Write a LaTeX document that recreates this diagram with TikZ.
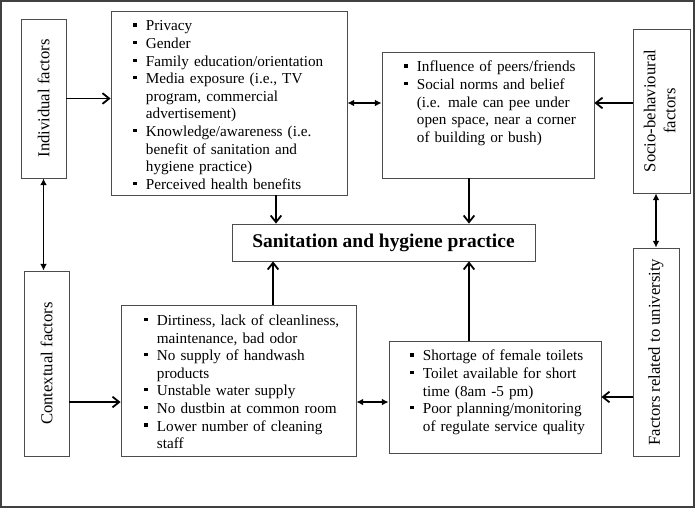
\documentclass[tikz,border=0pt]{standalone}
\usepackage{fontspec}
\setmainfont{Liberation Serif}
\usetikzlibrary{arrows.meta}
\newenvironment{bullets}{\begin{list}{\rule[3.3pt]{2.4pt}{2.4pt}}{\setlength{\leftmargin}{10pt}\setlength{\labelwidth}{2.4pt}\setlength{\labelsep}{7pt}\setlength{\itemsep}{0pt}\setlength{\parsep}{0pt}\setlength{\topsep}{0pt}\setlength{\partopsep}{0pt}}}{\end{list}}
\begin{document}
\begin{tikzpicture}[x=0.75pt,y=-0.75pt,
  box/.style={draw=black!70,line width=0.6pt,inner sep=0pt,font=\fontsize{12.5}{14.5}\selectfont},
  listtext/.style={anchor=north west,inner sep=0pt,text width=#1,font=\fontsize{11.4}{13.2}\selectfont},
  arr/.style={line width=1.35pt,-{Straight Barb[length=5pt,width=8pt]}},
  darr/.style={line width=1.35pt,{Latex[length=5pt,width=5pt]}-{Latex[length=5pt,width=5pt]}}]
\useasboundingbox (0,0) rectangle (696,508);
\draw[draw=black!75,line width=0.8pt] (1,1) rectangle (694,507);

\node[box,minimum width=33.75pt,minimum height=119.25pt] (indiv) at (43.5,98.5) {\rotatebox{90}{Individual factors}};
\node[box,minimum width=177pt,minimum height=138pt] (priv) at (229,103) {};
\node[box,minimum width=159pt,minimum height=94.5pt] (peer) at (488,115) {};
\node[box,minimum width=42.75pt,minimum height=123pt] (socio) at (661.5,111) {\rotatebox{90}{\begin{tabular}{@{}c@{}}Socio-behavioural\\[0.5pt]factors\end{tabular}}};
\node[box,minimum width=227.25pt,minimum height=27.75pt,font=\fontsize{14.6}{16}\selectfont\bfseries] (sanit) at (383.5,242.5) {Sanitation and hygiene practice};
\node[box,minimum width=33.75pt,minimum height=138.75pt] (context) at (46.5,363.5) {\rotatebox{90}{Contextual factors}};
\node[box,minimum width=176.25pt,minimum height=113.25pt] (dirt) at (238.5,380.5) {};
\node[box,minimum width=159pt,minimum height=84pt] (short) at (495,397) {};
\node[box,minimum width=34.5pt,minimum height=156pt] (univ) at (656,352) {\rotatebox{90}{Factors related to university}};

\node[listtext=165pt] (privtxt) at ([shift={(21.7,2.5)}]priv.north west) {\begin{bullets}
\item Privacy
\item Gender
\item Family education/orientation
\item Media exposure (i.e., TV\\ program, commercial\\ advertisement)
\item Knowledge/awareness (i.e.\\ benefit of sanitation and\\ hygiene practice)
\item Perceived health benefits
\end{bullets}};
\node[listtext=155pt] (peertxt) at ([shift={(21.7,2.5)}]peer.north west) {\begin{bullets}
\item Influence of peers/friends
\item Social norms and belief\\ (i.e. male can pee under\\ open space, near a corner\\ of building or bush)
\end{bullets}};
\node[listtext=168pt] (dirttxt) at ([shift={(22.7,3)}]dirt.north west) {\begin{bullets}
\item Dirtiness, lack of cleanliness,\\ maintenance, bad odor
\item No supply of handwash\\ products
\item Unstable water supply
\item No dustbin at common room
\item Lower number of cleaning\\ staff
\end{bullets}};
\node[listtext=155pt] (shorttxt) at ([shift={(20.7,2.5)}]short.north west) {\begin{bullets}
\item Shortage of female toilets
\item Toilet available for short\\ time (8am -5 pm)
\item Poor planning/monitoring\\ of regulate service quality
\end{bullets}};

\draw[arr] (indiv.east) -- (indiv.east -| priv.west);
\draw[darr] (priv.east) -- (priv.east -| peer.west);
\draw[arr] (priv.east -| socio.west) -- (priv.east -| peer.east);
\draw[arr] ([xshift=35.25pt]priv.south) -- ([xshift=35.25pt]priv.south |- sanit.north);
\draw[arr] ([xshift=-14.25pt]peer.south) -- ([xshift=-14.25pt]peer.south |- sanit.north);
\draw[arr] ([xshift=25.9pt]dirt.north) -- ([xshift=25.9pt]dirt.north |- sanit.south);
\draw[arr] ([xshift=-19.5pt]short.north) -- ([xshift=-19.5pt]short.north |- sanit.south);
\draw[darr] (indiv.south) -- (indiv.south |- context.north);
\draw[darr] (univ.north) -- (univ.north |- socio.south);
\draw[arr] ([yshift=-28.9pt]context.east) -- ([yshift=-28.9pt]context.east -| dirt.west);
\draw[darr] ([yshift=-28.9pt]context.east -| dirt.east) -- ([yshift=-28.9pt]context.east -| short.west);
\draw[arr] (univ.west |- short.east) -- (short.east);
\end{tikzpicture}
\end{document}
